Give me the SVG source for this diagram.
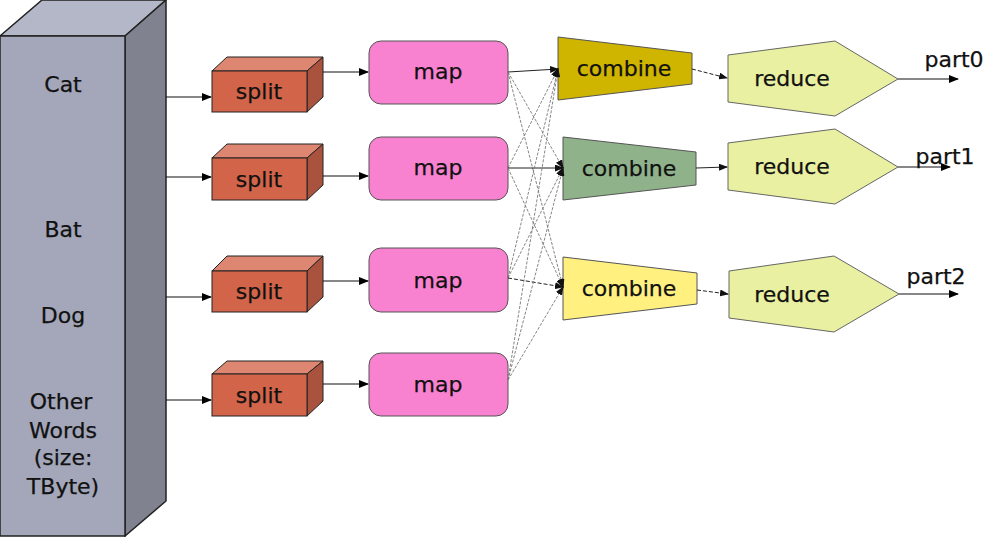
<svg xmlns="http://www.w3.org/2000/svg" width="985" height="537" viewBox="0 0 985 537">
<defs>
<marker id="ah" markerWidth="10" markerHeight="8" refX="9" refY="4" orient="auto" markerUnits="userSpaceOnUse">
<path d="M0,0 L10,4 L0,8 Z" fill="#000"/>
</marker>
<marker id="ahs" markerWidth="9" markerHeight="7" refX="8" refY="3.5" orient="auto" markerUnits="userSpaceOnUse">
<path d="M0,0 L9,3.5 L0,7 Z" fill="#111"/>
</marker>
</defs>
<style>
text{font-family:"DejaVu Sans",Verdana,sans-serif;font-size:22px;fill:#111;text-anchor:middle;stroke:#111;stroke-width:0.25}
.bf{fill:#a3a7b9;stroke:#222;stroke-width:1.5}
.bt{fill:#b4b7c7;stroke:#222;stroke-width:1.5}
.bs{fill:#80838f;stroke:#222;stroke-width:1.5}
.sf{fill:#d2644a;stroke:#222;stroke-width:1}
.st{fill:#dd8671;stroke:#222;stroke-width:1}
.ss{fill:#a9533f;stroke:#222;stroke-width:1}
.mp{fill:#f982d0;stroke:#555;stroke-width:1}
.rd{fill:#e9f0a1;stroke:#666;stroke-width:1}
.cb{stroke:#555;stroke-width:1}
.a{stroke:#111;stroke-width:1.2;fill:none;marker-end:url(#ah)}
.x{stroke:#777;stroke-width:0.9;stroke-dasharray:3 1.5;fill:none;marker-end:url(#ahs)}
.d{stroke:#222;stroke-width:1;stroke-dasharray:4 2;fill:none;marker-end:url(#ahs)}
.s{stroke:#222;stroke-width:1;fill:none;marker-end:url(#ahs)}
</style>
<g id="input">
<polygon class="bt" points="0,36 42,0 166,0 125,36"/>
<polygon class="bs" points="125,36 166,0 166,501 125,536"/>
<rect class="bf" x="0" y="36" width="125" height="500"/>
<text x="63" y="92">Cat</text>
<text x="63" y="237">Bat</text>
<text x="63" y="323">Dog</text>
<text x="61" y="409">Other</text>
<text x="63" y="438">Words</text>
<text x="63" y="465">(size:</text>
<text x="63" y="494">TByte)</text>
</g>
<g id="split1">
<polygon class="st" points="212,71 227,57 323,57 307,71"/>
<polygon class="ss" points="307,71 323,57 323,97 307,112"/>
<rect class="sf" x="212" y="71" width="95" height="41"/>
<text x="259" y="99">split</text>
</g>
<g id="split2">
<polygon class="st" points="212,158 227,144 323,144 307,158"/>
<polygon class="ss" points="307,158 323,144 323,185 307,200"/>
<rect class="sf" x="212" y="158" width="95" height="42"/>
<text x="259" y="187">split</text>
</g>
<g id="split3">
<polygon class="st" points="212,271 227,256 323,256 307,271"/>
<polygon class="ss" points="307,271 323,256 323,297 307,312"/>
<rect class="sf" x="212" y="271" width="95" height="41"/>
<text x="259" y="299">split</text>
</g>
<g id="split4">
<polygon class="st" points="212,374 227,361 323,361 307,374"/>
<polygon class="ss" points="307,374 323,361 323,401 307,416"/>
<rect class="sf" x="212" y="374" width="95" height="42"/>
<text x="259" y="403">split</text>
</g>
<g id="map1"><rect class="mp" x="369" y="41" width="139" height="63" rx="12"/><text x="438" y="79">map</text></g>
<g id="map2"><rect class="mp" x="369" y="137" width="139" height="63" rx="12"/><text x="438" y="175">map</text></g>
<g id="map3"><rect class="mp" x="369" y="248" width="139" height="64" rx="12"/><text x="438" y="288">map</text></g>
<g id="map4"><rect class="mp" x="369" y="353" width="139" height="63" rx="12"/><text x="438" y="392">map</text></g>
<g id="combine1"><polygon class="cb" fill="#cfb400" points="558,37 692,53 692,84 558,100"/><text x="624" y="76">combine</text></g>
<g id="combine2"><polygon class="cb" fill="#8fb28b" points="563,137 696,152 696,185 563,200"/><text x="629" y="176">combine</text></g>
<g id="combine3"><polygon class="cb" fill="#fff080" points="563,257 697,273 697,304 563,320"/><text x="629" y="296">combine</text></g>
<g id="reduce1"><polygon class="rd" points="728,55 835,41 898,79 835,116 728,102"/><text x="792" y="86">reduce</text></g>
<g id="reduce2"><polygon class="rd" points="728,143 835,129 898,167 835,204 728,190"/><text x="792" y="174">reduce</text></g>
<g id="reduce3"><polygon class="rd" points="729,271 834,256 899,294 834,332 729,318"/><text x="792" y="302">reduce</text></g>
<g id="labels">
<text x="954" y="67">part0</text>
<text x="945" y="164">part1</text>
<text x="936" y="284">part2</text>
</g>
<g id="connectors">
<line class="a" x1="166" y1="97" x2="211" y2="97"/>
<line class="a" x1="166" y1="177" x2="211" y2="177"/>
<line class="a" x1="166" y1="297" x2="211" y2="297"/>
<line class="a" x1="166" y1="400" x2="211" y2="400"/>
<line class="a" x1="323" y1="72" x2="368" y2="72"/>
<line class="a" x1="323" y1="176" x2="368" y2="176"/>
<line class="a" x1="323" y1="281" x2="368" y2="281"/>
<line class="a" x1="323" y1="384" x2="368" y2="384"/>
<line class="s" x1="508" y1="72" x2="558" y2="69"/>
<line class="x" x1="508" y1="72" x2="563" y2="168"/>
<line class="x" x1="508" y1="72" x2="563" y2="287"/>
<line class="x" x1="508" y1="168" x2="558" y2="69"/>
<line class="s" x1="508" y1="168" x2="563" y2="168"/>
<line class="x" x1="508" y1="168" x2="563" y2="287"/>
<line class="x" x1="508" y1="278" x2="558" y2="69"/>
<line class="x" x1="508" y1="278" x2="563" y2="168"/>
<line class="d" x1="508" y1="278" x2="563" y2="287"/>
<line class="x" x1="508" y1="380" x2="558" y2="69"/>
<line class="x" x1="508" y1="380" x2="563" y2="168"/>
<line class="x" x1="508" y1="380" x2="563" y2="287"/>
<line class="d" x1="692" y1="69" x2="727" y2="78"/>
<line class="s" x1="696" y1="168" x2="727" y2="167"/>
<line class="d" x1="697" y1="290" x2="728" y2="294"/>
<line class="a" x1="898" y1="79" x2="958" y2="79"/>
<line class="a" x1="898" y1="167" x2="950" y2="167"/>
<line class="a" x1="899" y1="294" x2="958" y2="294"/>
</g>
</svg>
